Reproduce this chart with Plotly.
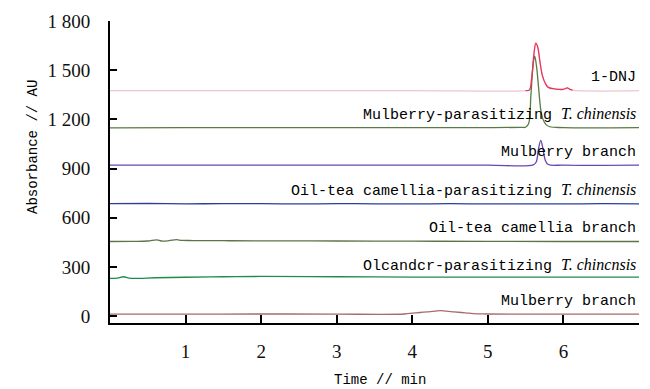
import plotly.graph_objects as go

# ---- data ----
time_dnj = [0, 2, 4, 5.50, 5.55, 5.58, 5.61, 5.635, 5.66, 5.69, 5.72, 5.76, 5.80, 5.90, 6.00, 6.05, 6.08, 6.12, 7]
abs_dnj = [1375, 1375, 1375, 1375, 1380, 1450, 1600, 1665, 1640, 1550, 1470, 1420, 1395, 1385, 1383, 1392, 1385, 1378, 1375]

time_mp = [0, 1, 2, 3, 4, 5, 5.45, 5.50, 5.54, 5.57, 5.60, 5.62, 5.645, 5.67, 5.70, 5.73, 5.77, 5.82, 6.0, 7]
abs_mp = [1148, 1150, 1150, 1150, 1150, 1150, 1151, 1152, 1175, 1350, 1540, 1585, 1520, 1400, 1260, 1200, 1168, 1155, 1150, 1150]

time_mb = [0, 2, 4, 5.0, 5.60, 5.64, 5.67, 5.70, 5.73, 5.76, 5.80, 6.0, 7]
abs_mb = [921, 921, 921, 921, 922, 940, 1020, 1072, 1020, 950, 925, 921, 921]

time_otp = [0, 0.5, 1, 1.5, 2, 2.5, 3, 3.5, 4, 4.5, 5, 5.5, 6, 6.5, 7]
abs_otp = [686, 687, 685, 686, 686, 684, 686, 685, 684, 686, 684, 685, 684, 686, 685]

time_otb = [0, 0.3, 0.5, 0.62, 0.68, 0.78, 0.88, 0.95, 1.1, 1.5, 2, 3, 4, 5, 6, 7]
abs_otb = [455, 456, 458, 465, 458, 460, 466, 462, 461, 460, 459, 458, 457, 456, 455, 455]

time_ol = [0, 0.1, 0.18, 0.25, 0.35, 0.6, 1, 1.5, 2, 3, 4, 5, 6, 7]
abs_ol = [230, 232, 240, 232, 230, 234, 237, 240, 242, 240, 238, 238, 238, 238]

time_mbb = [0, 1, 2, 3, 3.9, 4.0, 4.1, 4.2, 4.3, 4.37, 4.45, 4.55, 4.7, 4.85, 5, 6, 7]
abs_mbb = [12, 12, 13, 12, 13, 18, 22, 26, 30, 34, 30, 26, 20, 14, 13, 12, 12]

labels = [
    "1-DNJ",
    "Mulberry-parasitizing <i>T. chinensis</i>",
    "Mulberry branch",
    "Oil-tea camellia-parasitizing <i>T. chinensis</i>",
    "Oil-tea camellia branch",
    "Olcandcr-parasitizing <i>T. chincnsis</i>",
    "Mulberry branch",
]

y_ticks = [0, 300, 600, 900, 1200, 1500, 1800]
y_ticktext = ["0", "300", "600", "900", "1 200", "1 500", "1 800"]
x_ticks = [1, 2, 3, 4, 5, 6, 7]
x_ticktext = ["1", "2", "3", "4", "5", "6", ""]

series = [
    (time_dnj, abs_dnj, "#ecc8ce"),
    (time_mp, abs_mp, "#587a44"),
    (time_mb, abs_mb, "#6a45b0"),
    (time_otp, abs_otp, "#2e3f99"),
    (time_otb, abs_otb, "#5b7548"),
    (time_ol, abs_ol, "#1e8c4e"),
    (time_mbb, abs_mbb, "#a86a6a"),
]

fig = go.Figure()
for xs, ys, col in series:
    fig.add_trace(go.Scatter(x=xs, y=ys, mode="lines", line=dict(color=col, width=1.3),
                             line_shape="spline", hoverinfo="skip"))

# peak part of the 1-DNJ trace in stronger red
pk = [i for i, t in enumerate(time_dnj) if 5.5 <= t <= 6.12]
fig.add_trace(go.Scatter(x=[time_dnj[i] for i in pk], y=[abs_dnj[i] for i in pk], mode="lines",
                         line=dict(color="#e8355b", width=1.3), line_shape="spline", hoverinfo="skip"))

mono = "Liberation Mono"
serif = "Liberation Serif"

for (xs, ys, col), lab in zip(series, labels):
    txt = lab.replace("<i>", '<span style="font-family:Liberation Serif;font-size:16px"><i>').replace("</i>", "</i></span>")
    fig.add_annotation(x=7, y=ys[0], xref="x", yref="y", text=txt, showarrow=False,
                       xanchor="right", yanchor="middle", yshift=13, xshift=-1,
                       font=dict(family=mono, size=15, color="#000"))

fig.add_annotation(x=0.5, y=0, xref="paper", yref="paper", text="Time // min", showarrow=False,
                   xanchor="center", yanchor="middle", xshift=5, yshift=-57,
                   font=dict(family=mono, size=14, color="#000"))
fig.add_annotation(x=0, y=0.5, xref="paper", yref="paper", text="Absorbance // AU", showarrow=False,
                   textangle=-90, xanchor="center", yanchor="middle", xshift=-77, yshift=25,
                   font=dict(family=mono, size=14, color="#000"))

fig.update_layout(
    width=650, height=389,
    margin=dict(l=110, r=11, t=21, b=66),
    paper_bgcolor="white", plot_bgcolor="white",
    showlegend=False,
    xaxis=dict(range=[0, 7], tickvals=x_ticks, ticktext=x_ticktext, ticks="inside", ticklen=8,
               tickwidth=2, tickcolor="black", showline=True, linewidth=2, linecolor="black",
               showgrid=False, zeroline=False, ticklabelstandoff=10,
               tickfont=dict(family=serif, size=19, color="#111")),
    yaxis=dict(range=[-42, 1800], tickvals=y_ticks, ticktext=y_ticktext, ticks="inside", ticklen=7,
               tickwidth=2, tickcolor="black", showline=True, linewidth=2, linecolor="black",
               showgrid=False, zeroline=False, ticklabelstandoff=14,
               tickfont=dict(family=serif, size=19, color="#111")),
)

fig.write_html("out.html", config={"displayModeBar": False},
               post_script="document.body.style.margin='0';document.body.style.overflow='hidden';")
